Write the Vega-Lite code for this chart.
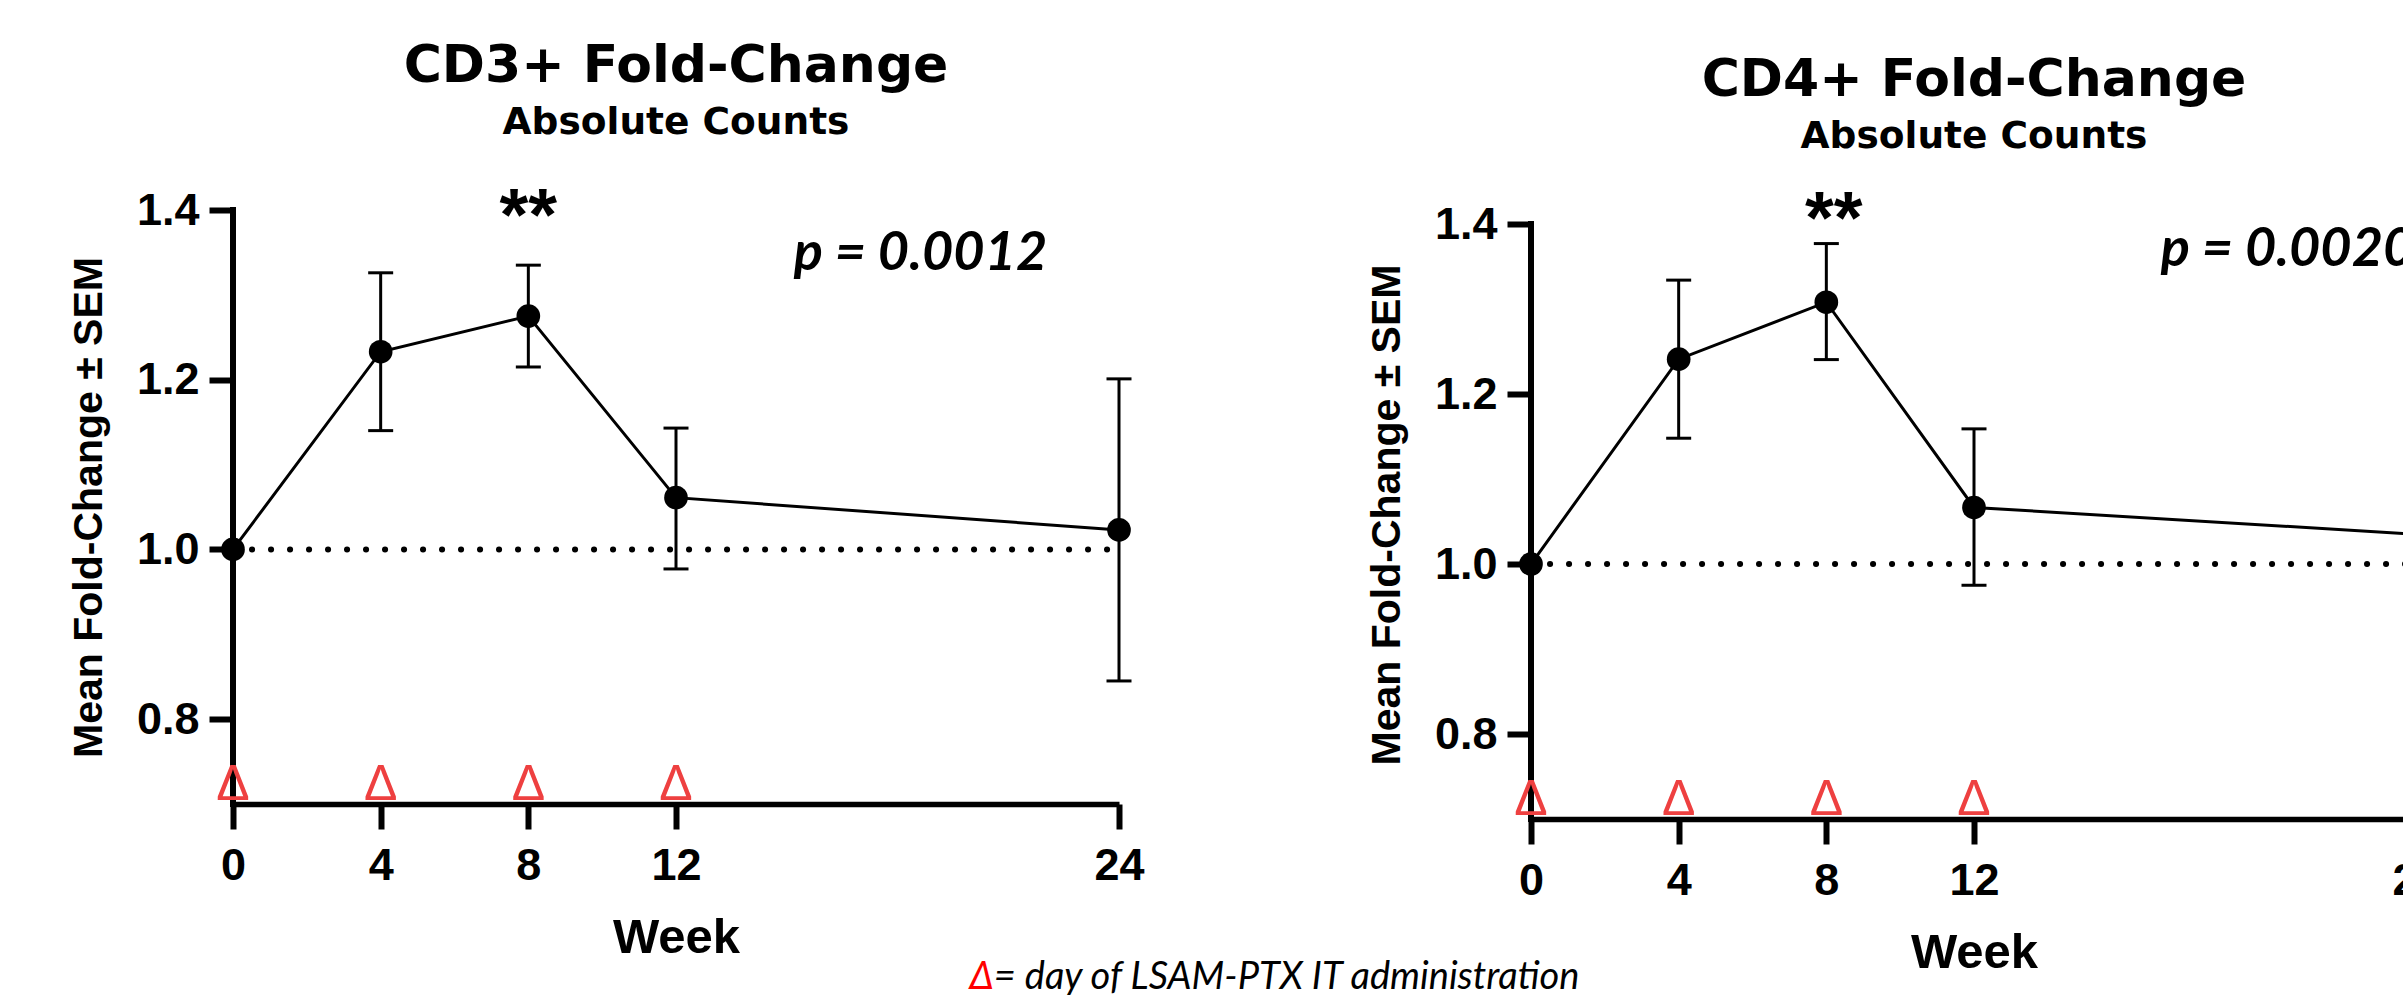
{
  "$schema": "https://vega.github.io/schema/vega-lite/v6.json",
  "background": "white",
  "padding": {"left": 68, "top": 40, "right": 5, "bottom": 0},
  "bounds": "flush",
  "spacing": 412,
  "config": {
    "view": {"stroke": null},
    "axis": {
      "grid": false,
      "domainColor": "black",
      "tickColor": "black",
      "labelColor": "black",
      "titleColor": "black",
      "labelFont": "Liberation Sans",
      "labelFontWeight": "bold",
      "labelFontSize": 45,
      "titleFont": "Liberation Sans",
      "titleFontWeight": "bold"
    },
    "title": {
      "font": "DejaVu Sans",
      "fontSize": 52,
      "fontWeight": "bold",
      "color": "black",
      "subtitleFont": "DejaVu Sans",
      "subtitleFontSize": 37.5,
      "subtitleFontWeight": "bold",
      "subtitleColor": "black",
      "subtitlePadding": 11,
      "anchor": "middle",
      "frame": "group"
    }
  },
  "datasets": {
    "cd3": [
      {"week": 0, "value": 1.0, "lo": 1.0, "hi": 1.0},
      {"week": 4, "value": 1.233, "lo": 1.14, "hi": 1.326},
      {"week": 8, "value": 1.275, "lo": 1.215, "hi": 1.335},
      {"week": 12, "value": 1.061, "lo": 0.977, "hi": 1.143},
      {"week": 24, "value": 1.023, "lo": 0.845, "hi": 1.201}
    ],
    "cd4": [
      {"week": 0, "value": 1.0, "lo": 1.0, "hi": 1.0},
      {"week": 4, "value": 1.241, "lo": 1.148, "hi": 1.334},
      {"week": 8, "value": 1.308, "lo": 1.2405, "hi": 1.377},
      {"week": 12, "value": 1.0665, "lo": 0.975, "hi": 1.159},
      {"week": 24, "value": 1.035, "lo": 0.84, "hi": 1.23}
    ],
    "ref": [{"week": 0, "week_end": 24, "value": 1.0}],
    "yline": [{"week": 0, "lo": 0.7, "hi": 1.4}],
    "doses": [
      {"week": 0, "value": 0.705, "label": "Δ"},
      {"week": 4, "value": 0.705, "label": "Δ"},
      {"week": 8, "value": 0.705, "label": "Δ"},
      {"week": 12, "value": 0.705, "label": "Δ"}
    ],
    "stars_cd3": [{"week": 8, "value": 1.365, "label": "**"}],
    "stars_cd4": [{"week": 8.2, "value": 1.378, "label": "**"}],
    "p_cd3": [{"week": 15.19, "value": 1.329, "label": "p = 0.0012"}],
    "p_cd4": [{"week": 17.06, "value": 1.3506, "label": "p = 0.0020"}],
    "note": [{"week": 20.61, "value": 0.482, "symbol": "Δ", "label": "= day of LSAM-PTX IT administration"}]
  },
  "hconcat": [
    {
      "width": 886,
      "height": 594,
      "title": {"text": "CD3+ Fold-Change", "subtitle": "Absolute Counts", "offset": 38},
      "encoding": {
        "x": {"field": "week", "type": "quantitative", "title": "Week",
              "scale": {"domain": [0, 24], "nice": false, "zero": false},
              "axis": {"values": [0, 4, 8, 12, 24], "tickSize": 25, "tickWidth": 6, "domainWidth": 5.5, "labelPadding": 14, "titlePadding": 25, "titleFontSize": 49, "labelFontSize": 45, "labelFlush": false, "labelOverlap": false}},
        "y": {"field": "value", "type": "quantitative", "title": "Mean Fold-Change ± SEM",
              "scale": {"domain": [0.7, 1.4], "nice": false, "zero": false},
              "axis": {"values": [0.8, 1.0, 1.2, 1.4], "format": ".1f", "domain": false, "tickSize": 24, "tickWidth": 6, "labelPadding": 10, "titlePadding": 26, "titleFontSize": 41, "labelFontSize": 45}}
      },
      "layer": [
        {"data": {"name": "ref"}, "mark": {"type": "rule", "strokeDash": [0.1, 18.9], "strokeCap": "round", "strokeWidth": 6, "color": "black"},
         "encoding": {"x2": {"field": "week_end"}}},
        {"data": {"name": "yline"}, "mark": {"type": "rule", "strokeWidth": 6, "strokeCap": "square", "color": "black"},
         "encoding": {"y": {"field": "lo", "type": "quantitative", "title": "Mean Fold-Change ± SEM", "scale": {"domain": [0.7, 1.4], "nice": false, "zero": false}}, "y2": {"field": "hi"}}},
        {"data": {"name": "cd3"}, "transform": [{"filter": "datum.hi > datum.lo"}], "mark": {"type": "rule", "strokeWidth": 3, "color": "black"},
         "encoding": {"y": {"field": "lo", "type": "quantitative", "title": "Mean Fold-Change ± SEM", "scale": {"domain": [0.7, 1.4], "nice": false, "zero": false}}, "y2": {"field": "hi"}}},
        {"data": {"name": "cd3"}, "transform": [{"filter": "datum.hi > datum.lo"}], "mark": {"type": "tick", "orient": "horizontal", "size": 25, "thickness": 3, "color": "black", "opacity": 1},
         "encoding": {"y": {"field": "hi", "type": "quantitative", "title": "Mean Fold-Change ± SEM", "scale": {"domain": [0.7, 1.4], "nice": false, "zero": false}}}},
        {"data": {"name": "cd3"}, "transform": [{"filter": "datum.hi > datum.lo"}], "mark": {"type": "tick", "orient": "horizontal", "size": 25, "thickness": 3, "color": "black", "opacity": 1},
         "encoding": {"y": {"field": "lo", "type": "quantitative", "title": "Mean Fold-Change ± SEM", "scale": {"domain": [0.7, 1.4], "nice": false, "zero": false}}}},
        {"data": {"name": "cd3"}, "mark": {"type": "line", "color": "black", "strokeWidth": 3}},
        {"data": {"name": "cd3"}, "mark": {"type": "point", "filled": true, "shape": "circle", "size": 560, "color": "black", "opacity": 1}},
        {"data": {"name": "doses"}, "mark": {"type": "text", "font": "Liberation Sans", "fontSize": 50, "color": "#ee4040", "align": "center", "baseline": "alphabetic"},
         "encoding": {"text": {"field": "label"}}},
        {"data": {"name": "stars_cd3"}, "mark": {"type": "text", "font": "Liberation Sans", "fontWeight": "bold", "fontSize": 74, "color": "black", "align": "center", "baseline": "alphabetic"},
         "encoding": {"text": {"field": "label"}}},
        {"data": {"name": "p_cd3"}, "mark": {"type": "text", "font": "Lato", "fontWeight": "bold", "fontStyle": "italic", "fontSize": 54, "color": "black", "align": "left", "baseline": "alphabetic"},
         "encoding": {"text": {"field": "label"}}},
        {"data": {"name": "note"}, "mark": {"type": "text", "font": "Lato", "fontStyle": "italic", "fontSize": 38, "color": "#ff0000", "align": "right", "baseline": "alphabetic"},
         "encoding": {"text": {"field": "symbol"}}},
        {"data": {"name": "note"}, "mark": {"type": "text", "font": "Lato", "fontStyle": "italic", "fontSize": 38, "color": "black", "align": "left", "baseline": "alphabetic"},
         "encoding": {"text": {"field": "label"}}}
      ]
    },
    {
      "width": 886,
      "height": 609,
      "title": {"text": "CD4+ Fold-Change", "subtitle": "Absolute Counts", "offset": 27},
      "encoding": {
        "x": {"field": "week", "type": "quantitative", "title": "Week",
              "scale": {"domain": [0, 24], "nice": false, "zero": false},
              "axis": {"values": [0, 4, 8, 12, 24], "tickSize": 25, "tickWidth": 6, "domainWidth": 5.5, "labelPadding": 14, "titlePadding": 25, "titleFontSize": 49, "labelFontSize": 45, "labelFlush": false, "labelOverlap": false}},
        "y": {"field": "value", "type": "quantitative", "title": "Mean Fold-Change ± SEM",
              "scale": {"domain": [0.7, 1.4165], "nice": false, "zero": false},
              "axis": {"values": [0.8, 1.0, 1.2, 1.4], "format": ".1f", "domain": false, "tickSize": 24, "tickWidth": 6, "labelPadding": 10, "titlePadding": 26, "titleFontSize": 41, "labelFontSize": 45}}
      },
      "layer": [
        {"data": {"name": "ref"}, "mark": {"type": "rule", "strokeDash": [0.1, 18.9], "strokeCap": "round", "strokeWidth": 6, "color": "black"},
         "encoding": {"x2": {"field": "week_end"}}},
        {"data": {"name": "yline"}, "mark": {"type": "rule", "strokeWidth": 6, "strokeCap": "square", "color": "black"},
         "encoding": {"y": {"field": "lo", "type": "quantitative", "title": "Mean Fold-Change ± SEM", "scale": {"domain": [0.7, 1.4165], "nice": false, "zero": false}}, "y2": {"field": "hi"}}},
        {"data": {"name": "cd4"}, "transform": [{"filter": "datum.hi > datum.lo"}], "mark": {"type": "rule", "strokeWidth": 3, "color": "black"},
         "encoding": {"y": {"field": "lo", "type": "quantitative", "title": "Mean Fold-Change ± SEM", "scale": {"domain": [0.7, 1.4165], "nice": false, "zero": false}}, "y2": {"field": "hi"}}},
        {"data": {"name": "cd4"}, "transform": [{"filter": "datum.hi > datum.lo"}], "mark": {"type": "tick", "orient": "horizontal", "size": 25, "thickness": 3, "color": "black", "opacity": 1},
         "encoding": {"y": {"field": "hi", "type": "quantitative", "title": "Mean Fold-Change ± SEM", "scale": {"domain": [0.7, 1.4165], "nice": false, "zero": false}}}},
        {"data": {"name": "cd4"}, "transform": [{"filter": "datum.hi > datum.lo"}], "mark": {"type": "tick", "orient": "horizontal", "size": 25, "thickness": 3, "color": "black", "opacity": 1},
         "encoding": {"y": {"field": "lo", "type": "quantitative", "title": "Mean Fold-Change ± SEM", "scale": {"domain": [0.7, 1.4165], "nice": false, "zero": false}}}},
        {"data": {"name": "cd4"}, "mark": {"type": "line", "color": "black", "strokeWidth": 3}},
        {"data": {"name": "cd4"}, "mark": {"type": "point", "filled": true, "shape": "circle", "size": 560, "color": "black", "opacity": 1}},
        {"data": {"name": "doses"}, "mark": {"type": "text", "font": "Liberation Sans", "fontSize": 50, "color": "#ee4040", "align": "center", "baseline": "alphabetic"},
         "encoding": {"text": {"field": "label"}}},
        {"data": {"name": "stars_cd4"}, "mark": {"type": "text", "font": "Liberation Sans", "fontWeight": "bold", "fontSize": 74, "color": "black", "align": "center", "baseline": "alphabetic"},
         "encoding": {"text": {"field": "label"}}},
        {"data": {"name": "p_cd4"}, "mark": {"type": "text", "font": "Lato", "fontWeight": "bold", "fontStyle": "italic", "fontSize": 54, "color": "black", "align": "left", "baseline": "alphabetic"},
         "encoding": {"text": {"field": "label"}}}
      ]
    }
  ]
}
